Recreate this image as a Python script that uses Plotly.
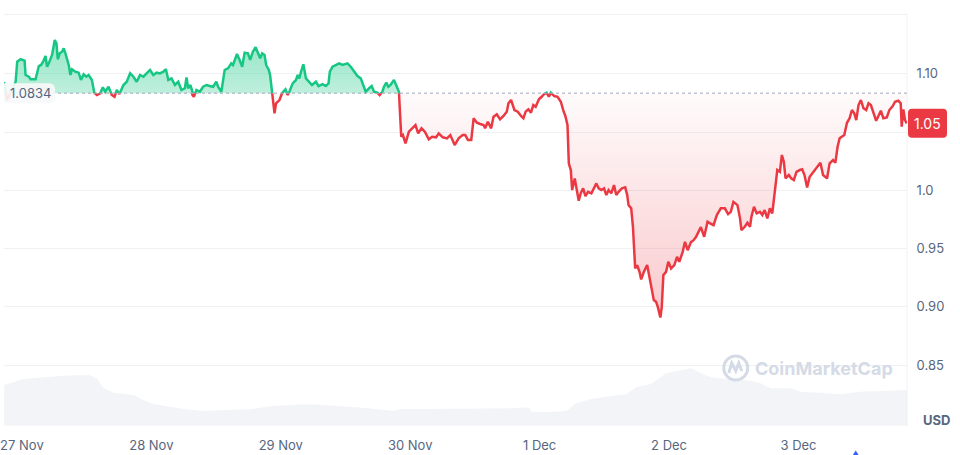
import pandas as pd
import plotly.graph_objects as go

# ---------------- data ----------------
START = "2023-11-27 00:00"
BASE = 1.0834            # reference (opening) price, dotted line
CURRENT_LABEL = "1.05"

# hours since 27 Nov 00:00 and USD price
price_hours = [
    -3.32, -2.77, -2.03, -1.16, -0.87, -0.24, 0.50, 0.68, 1.29, 1.61, 2.53, 2.82, 3.14, 3.56, 3.93,
    4.38, 4.67, 4.98, 5.59, 6.09, 6.41, 6.65, 7.02, 7.44, 7.75, 8.07, 8.36, 8.68, 8.99, 9.29,
    9.91, 10.52, 10.95, 11.45, 11.94, 12.37, 12.98, 13.42, 13.90, 14.53, 15.01, 15.45, 16.06, 16.67,
    17.17, 17.59, 18.09, 18.83, 19.44, 20.07, 20.68, 21.29, 21.91, 22.52, 23.76, 24.37, 24.98, 25.61,
    26.22, 26.71, 27.14, 27.75, 28.37, 28.98, 29.59, 30.22, 30.52, 30.83, 31.25, 31.62, 31.88, 32.36,
    32.99, 33.60, 34.21, 34.84, 35.45, 36.05, 36.37, 36.98, 37.60, 38.21, 38.82, 39.14, 39.88, 40.37,
    40.85, 41.30, 41.91, 42.33, 42.83, 43.33, 43.75, 44.18, 44.55, 44.99, 45.29, 45.78, 46.02, 46.39,
    46.84, 47.13, 47.76, 48.24, 48.87, 49.29, 49.60, 50.21, 50.82, 51.14, 51.45, 51.75, 52.19, 52.67,
    53.30, 53.78, 54.52, 55.01, 55.75, 56.36, 56.86, 57.10, 57.60, 58.21, 58.84, 59.45, 60.37, 60.98,
    61.61, 62.22, 62.83, 63.27, 63.75, 64.38, 64.86, 65.30, 65.91, 66.33, 66.83, 67.14, 67.57, 67.94,
    68.36, 68.99, 69.41, 69.91, 70.10, 70.34, 70.65, 71.13, 71.76, 72.37, 72.98, 73.48, 74.09, 74.71,
    75.45, 76.06, 76.80, 77.30, 78.04, 78.83, 79.44, 80.25, 80.99, 81.73, 82.21, 82.71, 83.32, 83.76,
    84.37, 84.98, 85.61, 85.90, 86.40, 87.01, 87.45, 88.06, 88.67, 89.30, 89.91, 90.22, 90.70, 91.33,
    91.94, 92.55, 92.99, 93.41, 93.91, 94.39, 94.83, 95.26, 95.87, 96.37, 96.86, 97.29, 97.71, 98.08,
    98.71, 99.32, 99.93, 100.37, 100.80, 101.17, 101.41, 101.78, 102.03, 102.51, 102.83, 103.25,
    103.62, 104.07, 104.49, 104.99, 105.60, 106.10, 106.52, 106.95, 107.45, 107.94, 108.37, 108.79,
    109.29, 109.79, 110.21, 110.64, 111.26, 111.87, 112.24, 112.48, 112.98, 113.30, 113.59, 113.72,
    114.09, 114.52, 114.83, 115.33, 115.94, 116.36, 116.81, 117.17, 117.60, 117.91, 118.39, 118.65,
    118.94, 119.44, 119.87, 120.37, 120.98, 121.48, 121.90, 122.53, 122.95, 123.45, 124.06, 124.55,
    124.98, 125.59, 125.90, 126.51, 127.14, 127.62, 128.25, 128.86, 129.60, 130.34, 130.95, 131.45,
    131.94, 132.68, 133.16, 133.42, 134.03, 134.53, 135.01, 135.27, 135.75, 136.25, 136.85, 137.29,
    137.72, 138.22, 138.70, 139.14, 139.57, 140.07, 140.55, 140.92, 141.28, 141.60, 142.21, 142.65,
    143.13, 143.63, 144.24, 144.68, 145.11, 145.60, 146.08, 146.71, 147.45, 148.06, 148.56, 149.29,
    149.77, 150.40, 150.83, 151.25, 151.62, 152.07, 152.49, 152.99, 153.47, 153.91, 154.34, 154.71,
    155.13, 155.57, 156.05, 156.55, 156.98, 157.42, 157.90, 158.40, 158.82, 159.27, 159.74, 160.37,
    160.85, 161.48, 161.90, 162.51, 162.95, 163.14, 163.44, 163.75, 164.06,
]
price_usd = [
    1.0930, 1.0775, 1.0844, 1.0932, 1.1104, 1.1125, 1.1113, 1.0990, 1.0975, 1.0953, 1.0953, 1.1004, 1.1067, 1.1076, 1.1104,
    1.1153, 1.1061, 1.1090, 1.1162, 1.1290, 1.1262, 1.1125, 1.1176, 1.1190, 1.1219, 1.1176, 1.1133, 1.1076, 1.0990, 1.1039,
    1.1018, 1.1010, 1.0947, 1.0996, 1.0975, 1.0990, 1.0947, 1.0838, 1.0818, 1.0833, 1.0884, 1.0846, 1.0889, 1.0818,
    1.0803, 1.0861, 1.0827, 1.0904, 1.0932, 1.1004, 1.0975, 1.0932, 1.0990, 1.0975, 1.1033, 1.0990, 1.1010, 1.1004,
    1.1018, 1.1039, 1.0947, 1.0961, 1.0904, 1.0932, 1.0861, 1.0876, 1.0970, 1.0876, 1.0904, 1.0818, 1.0803, 1.0861,
    1.0846, 1.0889, 1.0904, 1.0895, 1.0889, 1.0932, 1.0889, 1.0846, 1.1033, 1.1047, 1.1090, 1.1076, 1.1170, 1.1119,
    1.1061, 1.1181, 1.1176, 1.1119, 1.1190, 1.1228, 1.1181, 1.1133, 1.1176, 1.1162, 1.1076, 1.1033, 1.0990, 1.0846,
    1.0661, 1.0747, 1.0775, 1.0833, 1.0867, 1.0818, 1.0846, 1.0918, 1.0947, 1.0990, 1.0961, 1.1018, 1.1082, 1.0961,
    1.0932, 1.0904, 1.0932, 1.0895, 1.0912, 1.0895, 1.0918, 1.1018, 1.1061, 1.1076, 1.1090, 1.1076, 1.1090, 1.1061,
    1.1018, 1.0981, 1.0961, 1.0904, 1.0846, 1.0876, 1.0895, 1.0846, 1.0838, 1.0818, 1.0846, 1.0889, 1.0924, 1.0889,
    1.0904, 1.0947, 1.0904, 1.0846, 1.0675, 1.0460, 1.0474, 1.0403, 1.0503, 1.0532, 1.0560, 1.0489, 1.0532, 1.0503,
    1.0437, 1.0460, 1.0455, 1.0489, 1.0455, 1.0446, 1.0474, 1.0388, 1.0446, 1.0474, 1.0474, 1.0431, 1.0431, 1.0618,
    1.0580, 1.0569, 1.0560, 1.0532, 1.0589, 1.0532, 1.0632, 1.0652, 1.0609, 1.0638, 1.0675, 1.0747, 1.0775, 1.0689,
    1.0675, 1.0638, 1.0618, 1.0675, 1.0695, 1.0666, 1.0732, 1.0717, 1.0781, 1.0803, 1.0827, 1.0838, 1.0803, 1.0838,
    1.0809, 1.0803, 1.0760, 1.0689, 1.0632, 1.0560, 1.0231, 1.0174, 1.0002, 1.0102, 1.0002, 0.9910,
    0.9974, 1.0017, 0.9950, 0.9987, 0.9974, 1.0017, 1.0059, 1.0017, 1.0002, 1.0017, 0.9959, 1.0002,
    0.9974, 1.0045, 0.9959, 0.9987, 1.0017, 1.0025, 0.9959, 0.9873, 0.9845, 0.9687, 0.9458, 0.9329,
    0.9358, 0.9300, 0.9235, 0.9300, 0.9358, 0.9243, 0.9157, 0.9057, 0.9042, 0.8999, 0.8908, 0.8999,
    0.9272, 0.9300, 0.9386, 0.9329, 0.9358, 0.9429, 0.9386, 0.9472, 0.9558, 0.9486, 0.9555, 0.9572,
    0.9598, 0.9658, 0.9684, 0.9601, 0.9730, 0.9716, 0.9701, 0.9787, 0.9845, 0.9845, 0.9796, 0.9815,
    0.9901, 0.9873, 0.9759, 0.9658, 0.9687, 0.9721, 0.9687, 0.9773, 0.9858, 0.9802, 0.9815, 0.9787,
    0.9830, 0.9759, 0.9845, 0.9802, 1.0002, 1.0174, 1.0159, 1.0303, 1.0245, 1.0102, 1.0131, 1.0102,
    1.0088, 1.0159, 1.0174, 1.0180, 1.0131, 1.0025, 1.0116, 1.0151, 1.0197, 1.0236, 1.0131, 1.0102,
    1.0231, 1.0260, 1.0236, 1.0374, 1.0446, 1.0460, 1.0474, 1.0580, 1.0618, 1.0689, 1.0661, 1.0603,
    1.0732, 1.0775, 1.0704, 1.0689, 1.0747, 1.0732, 1.0661, 1.0597, 1.0638, 1.0683, 1.0618, 1.0626,
    1.0689, 1.0723, 1.0760, 1.0769, 1.0747, 1.0546, 1.0695, 1.0603, 1.0575,
]

# 24h volume (relative units) at hours since 27 Nov 00:00
vol_hours = [
    -3.3, -0.55, 0.37, 4.06, 7.75, 12.37, 13.85, 15.14, 16.98, 20.68, 22.52, 24.37, 27.14, 29.91,
    33.6, 37.3, 42.83, 46.52, 52.06, 55.75, 59.45, 63.14, 68.68, 70.52, 76.06, 81.6, 85.29, 90.83,
    93.97, 94.52, 97.29, 100.98, 102.83, 105.6, 109.29, 112.06, 113.9, 116.67, 119.44, 122.21,
    124.06, 125.9, 127.75, 131.45, 135.14, 136.98, 138.83, 142.52, 144.37, 148.06, 151.75, 155.44,
    159.14, 164.06,
]
vol_values = [
    40.7, 44.7, 46.7, 48.4, 50.0, 50.7, 47.7, 37.7, 33.0, 30.7, 25.7, 21.7, 19.0, 16.7,
    14.7, 15.7, 16.7, 19.7, 21.4, 20.7, 19.7, 18.0, 15.0, 16.7, 16.7, 16.7, 16.7, 17.4,
    18.4, 14.0, 13.4, 14.7, 22.7, 26.7, 29.7, 31.4, 38.4, 41.7, 52.4, 55.0,
    57.4, 52.4, 48.4, 46.4, 45.0, 42.4, 37.4, 37.4, 34.0, 33.0, 31.4, 34.0,
    35.0, 35.7,
]

x_tick_dates = ["2023-11-27", "2023-11-28", "2023-11-29", "2023-11-30",
                "2023-12-01", "2023-12-02", "2023-12-03"]
x_tick_labels = ["27 Nov", "28 Nov", "29 Nov", "30 Nov", "1 Dec", "2 Dec", "3 Dec"]
y_tick_vals = [0.85, 0.90, 0.95, 1.00, 1.05, 1.10]
y_tick_text = ["0.85", "0.90", "0.95", "1.0", "", "1.10"]   # 1.05 is covered by the price tag

# ---------------- styling / layout ----------------
GREEN = "#16c784"
RED = "#ea3943"
GRAY = "#58667e"
GRID = "#eff2f5"
FONT = "Inter, 'Noto Sans', sans-serif"

W, H = 960, 455
PLOT_W = 907


def fy(px):
    return 1 - px / H


start = pd.Timestamp(START)
t_price = start + pd.to_timedelta(price_hours, unit="h")
t_vol = start + pd.to_timedelta(vol_hours, unit="h")
x_range = [start + pd.Timedelta(hours=-3.32), start + pd.Timedelta(hours=164.12)]

d0, d1 = fy(425), fy(15)
r0, r1 = 0.7985, 1.1505
f = d0 + (BASE - r0) / (r1 - r0) * (d1 - d0)

last_price = price_usd[-1]

fig = go.Figure()

# volume
fig.add_trace(go.Scatter(
    x=t_vol, y=vol_values, yaxis="y2", mode="lines",
    line=dict(width=0, color="rgba(207,214,228,0.3)"),
    fill="tozeroy", fillcolor="rgba(207,214,228,0.28)", hoverinfo="skip"))

# red part (clipped to below the base line)
fig.add_trace(go.Scatter(
    x=t_price, y=[BASE] * len(price_usd), yaxis="y4", mode="lines",
    line=dict(width=0), hoverinfo="skip"))
fig.add_trace(go.Scatter(
    x=t_price, y=price_usd, yaxis="y4", mode="lines",
    line=dict(color=RED, width=2.5),
    fill="tonexty",
    fillgradient=dict(type="vertical",
                      colorscale=[[0, "rgba(234,57,67,0.27)"], [1, "rgba(234,57,67,0.02)"]],
                      start=min(price_usd), stop=BASE),
    hoverinfo="skip"))

# green part (clipped to above the base line)
fig.add_trace(go.Scatter(
    x=t_price, y=price_usd, yaxis="y3", mode="lines",
    line=dict(color=GREEN, width=2.5),
    fill="tozeroy",
    fillgradient=dict(type="vertical",
                      colorscale=[[0, "rgba(22,199,132,0.28)"], [1, "rgba(22,199,132,0.45)"]],
                      start=BASE, stop=max(price_usd)),
    hoverinfo="skip"))

shapes = [
    # top border and right border
    dict(type="line", xref="paper", yref="paper", x0=0, x1=1, y0=fy(14.5), y1=fy(14.5),
         line=dict(color=GRID, width=1), layer="below"),
    dict(type="line", xref="paper", yref="paper", x0=1, x1=1, y0=fy(14.5), y1=fy(427),
         line=dict(color=GRID, width=1), layer="below"),
    # dotted base line
    dict(type="line", xref="paper", yref="y", x0=0, x1=1, y0=BASE, y1=BASE,
         line=dict(color="#a1a7bb", width=1, dash="dot"), layer="above"),
    # base value label box
    dict(type="path", xref="paper", xsizemode="pixel", xanchor=0,
         yref="y", ysizemode="pixel", yanchor=BASE,
         path="M 0,10 L 45,10 Q 51,10 51,4 L 51,-4 Q 51,-10 45,-10 L 0,-10 Z",
         fillcolor="rgba(247,248,250,0.92)", line=dict(width=0), layer="above"),
    # current price box
    dict(type="path", xref="paper", xsizemode="pixel", xanchor=1,
         yref="y", ysizemode="pixel", yanchor=last_price,
         path="M 5,14.5 L 36,14.5 Q 40,14.5 40,10.5 L 40,-10.5 Q 40,-14.5 36,-14.5 "
              "L 5,-14.5 Q 1,-14.5 1,-10.5 L 1,10.5 Q 1,14.5 5,14.5 Z",
         fillcolor=RED, line=dict(width=0), layer="above"),
    # watermark logo
    dict(type="circle", xref="paper", xsizemode="pixel", xanchor=735 / PLOT_W,
         yref="paper", ysizemode="pixel", yanchor=fy(368),
         x0=-12, x1=12, y0=-12, y1=12,
         line=dict(color="#d5dbe6", width=3), layer="above"),
    dict(type="path", xref="paper", xsizemode="pixel", xanchor=735 / PLOT_W,
         yref="paper", ysizemode="pixel", yanchor=fy(368),
         path="M -7,-5 L -4,5 L 0,-3 L 3,5 L 6,-3",
         line=dict(color="#d5dbe6", width=3), layer="above"),
    # small blue marker at bottom
    dict(type="path", xref="paper", yref="paper",
         path=f"M {852/PLOT_W},{fy(456)} L {855.5/PLOT_W},{fy(450.5)} L {859/PLOT_W},{fy(456)} Z",
         fillcolor="#3861fb", line=dict(width=0), layer="above"),
]

annotations = [
    dict(xref="paper", yref="y", x=0, y=BASE, xanchor="left", yanchor="middle", xshift=4,
         text="1.0834", showarrow=False, font=dict(family=FONT, size=13, color=GRAY)),
    dict(xref="paper", yref="y", x=1 + 20.5 / PLOT_W, y=last_price, xanchor="center",
         yanchor="middle", text=CURRENT_LABEL, showarrow=False,
         font=dict(family=FONT, size=14, color="white")),
    dict(xref="paper", yref="paper", x=937 / PLOT_W, y=fy(420), xanchor="center",
         yanchor="middle", text="<b>USD</b>", showarrow=False,
         font=dict(family=FONT, size=13, color=GRAY)),
    dict(xref="paper", yref="paper", x=824 / PLOT_W, y=fy(368), xanchor="center",
         yanchor="middle", text="<b>CoinMarketCap</b>", showarrow=False,
         font=dict(family=FONT, size=18, color="#d5dbe6")),
]

fig.update_layout(
    width=W, height=H,
    margin=dict(l=0, r=W - PLOT_W, t=0, b=0),
    paper_bgcolor="white", plot_bgcolor="rgba(0,0,0,0)",
    showlegend=False,
    font=dict(family=FONT, size=13, color=GRAY),
    xaxis=dict(type="date", range=x_range, tickvals=x_tick_dates, ticktext=x_tick_labels,
               showgrid=False, zeroline=False, showline=False,
               ticks="outside", ticklen=8, tickcolor="rgba(0,0,0,0)",
               ticklabeloverflow="allow",
               tickfont=dict(family=FONT, size=13, color=GRAY), anchor="y"),
    yaxis=dict(domain=[d0, d1], range=[r0, r1], side="right", anchor="x",
               tickvals=y_tick_vals, ticktext=y_tick_text,
               showgrid=True, gridcolor=GRID, gridwidth=1, zeroline=False, showline=False,
               ticks="outside", ticklen=6, tickcolor="rgba(0,0,0,0)",
               tickfont=dict(family=FONT, size=13, color=GRAY)),
    yaxis2=dict(domain=[fy(425.7), fy(355)], range=[0, 70.7], visible=False, anchor="x"),
    yaxis3=dict(domain=[f, d1], range=[BASE, r1], visible=False, anchor="x"),
    yaxis4=dict(domain=[d0, f], range=[r0, BASE], visible=False, anchor="x"),
    shapes=shapes,
    annotations=annotations,
)

fig.write_html("out.html",
               config={"displayModeBar": False},
               post_script="document.body.style.margin='0';document.body.style.overflow='hidden';")
